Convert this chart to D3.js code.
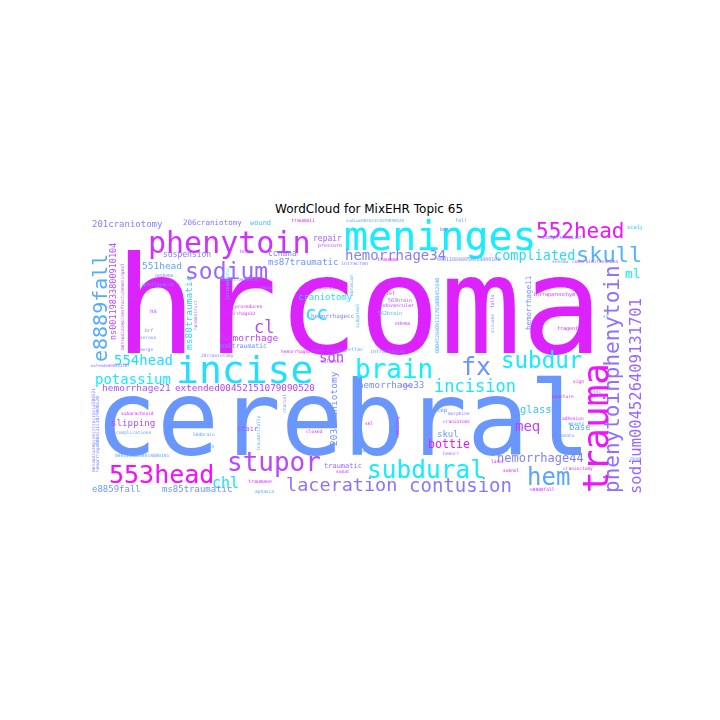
<!DOCTYPE html>
<html><head><meta charset="utf-8">
<script src="https://cdn.jsdelivr.net/npm/d3@7"></script>
<style>html,body{margin:0;padding:0;background:#fff;}</style>
</head><body>
<svg id="chart" width="720" height="720"></svg>
<script>
const title = "WordCloud for MixEHR Topic 65";

// words of the topic (largest first), their cloud size and colour tone (0 = cyan, 1 = magenta)
const words = [
 "hrcoma","cerebral","meninges","phenytoin","sodium","552head","skull","compliated","hemorrhage34","201craniotomy",
 "206craniotomy","wound","suspension","ccnana","ms87traumatic","repair","pressure","551head","craniotomy","cc",
 "cl","hemorrhagecc","hemorrhage","ms0traumatic","ml","554head","incise","potassium","hemorrhage21","extended00452151079090520",
 "sdh","brain","fx","subdur","incision","hemorrhage33","slipping","stair","glass","base",
 "meq","skul","bottie","hemorrhage44","hem","553head","stupor","chl","laceration","subdural",
 "contusion","e8859fall","ms85traumatic","traumatic",
 "e8889fall","ns00119833800910104","ms80traumatic","phenytoinphenytoin","sodium004526409131701","hemorrhage11","203craniotomy","trauma",
 "traumaii","sodium00452151079090520","fall","bns","scalp","compression","000118848054014800101","traumaa","seesaw","comorbiditiesnana",
 "intraparenchym","sn","fragent","brief","563brain","endovascular","562brain","edema","intracranial","effac",
 "hemorrhage12","hosp","intracran","oedema","ciprofloxacin","ms86traumatic","musu","acetaminophen","procedures","hemorrhage32",
 "ns","serous","brf","emerge","hemorrhage23","20craniotomy","dilantin","extended00452107","subarachnoid","complications",
 "564brain","sah","00011488054014800101","closed","skl","ms80basal","traumaoe","aphasia","somat","step",
 "morphine","craniotomi","hemorr","laser","somnol","puncture","sign","ssi","sinus","adhesion",
 "squeez","somato","deep","craniectomy","e8880fall","lower",
 "benzodiazepinesfracturemeningeal","nonobstruct","intraventric","abrasion","subgaleal","0004526409131701000452640","falls","sinuses","vomiting","traumatically",
 "cranial","benzodiazepineintracranial04521","hemorrhage000452151079090520"
];
const weights = [
 135,103,40,30,23,21,22,13.5,14,9,
 7.5,7,8,8,9,8,5,9.5,9,19,
 17,6,9.5,6.5,13,14,38,14,9.5,9.3,
 14,26,25,22.5,17,9.2,9.2,7,10.5,9,
 14,9,11.6,12,24,25,26,15,18.5,24.5,
 19,9,9,7,
 20,8.5,9.5,21,15.5,7.5,9.5,36,
 5,4.2,5,5,5.5,6,5,5,4.5,4.5,
 5,4.5,5,5,5,5,5,5,5,5,
 5,5,5,5,4.5,5,4.5,4.5,4.5,4.5,
 6,4.5,4.5,4.5,4.5,4.5,4.5,4,4.5,4.5,
 4.5,4.5,4.5,4.5,4.5,4.5,5,4.5,4.5,6,
 4.5,4.5,4.5,4.5,4.5,4.5,4.5,4.5,4.5,4.5,
 4.5,4.5,4.5,4.5,4.5,4.5,
 4.5,4.5,4.5,4.5,4.5,5,4.5,4.5,4.5,4.5,
 4.5,4.5,4.5
];
const tones = [
 0.86,0.41,0.07,0.8,0.6,0.93,0.3,0.15,0.5,0.5,
 0.55,0.25,0.55,0.5,0.42,0.62,0.7,0.35,0.15,0.12,
 0.7,0.5,0.75,0.45,0.06,0.12,0.13,0.08,0.66,0.75,
 0.68,0.06,0.42,0.08,0.1,0.45,0.7,0.65,0.22,0.35,
 0.75,0.4,0.9,0.5,0.35,0.97,0.72,0.12,0.55,0.08,
 0.52,0.4,0.42,0.6,
 0.33,0.7,0.18,0.56,0.6,0.45,0.45,0.93,
 0.9,0.3,0.4,0.65,0.2,0.45,0.45,0.9,0.4,0.7,
 0.85,0.3,0.85,0.85,0.6,0.7,0.3,0.7,0.45,0.3,
 0.65,0.65,0.5,0.45,0.3,0.45,0.4,0.85,0.9,0.8,
 0.75,0.4,0.6,0.55,0.85,0.5,0.85,0.55,0.85,0.4,
 0.35,0.3,0.35,0.9,0.85,0.35,0.85,0.35,0.8,0.4,
 0.55,0.85,0.55,0.85,0.9,0.85,0.9,0.35,0.4,0.85,
 0.3,0.4,0.35,0.85,0.85,0.55,
 0.7,0.6,0.15,0.4,0.3,0.3,0.7,0.4,0.9,0.35,
 0.45,0.55,0.45
];

// layout of the cloud image (image pixel units, 552 x 277): [x, y, vertical]
const placement = [
 [25,136,0],[5,238,0],[254,33,0],[58,36,0],[95,62,0],[446,21,0],[486,45,0],[404,43,0],[255,43,0],[2,10,0],
 [93,8,0],[160,8,0],[73,40,0],[178,39,0],[178,48,0],[223,24,0],[228,30,0],[52,52,0],[208,83,0],[215,103,0],
 [164,116,0],[221,101,0],[131,124,0],[130,131,0],[535,61,0],[24,148,0],[86,166,0],[5,167,0],[12,174,0],[85,174,0],
 [229,145,0],[265,161,0],[371,158,0],[411,151,0],[344,175,0],[268,171,0],[21,209,0],[147,214,0],[430,196,0],[479,213,0],
 [425,214,0],[347,220,0],[338,231,0],[407,245,0],[437,268,0],[19,266,0],[137,254,0],[122,271,0],[196,274,0],[277,261,0],
 [319,275,0],[2,275,0],[72,275,0],[234,251,0],
 [17,145,1],[26,123,1],[102,133,1],[529,276,1],[551,277,1],[441,113,1],[247,229,1],[518,276,1],
 [201,5,0],[256,5,0],[365,5,0],[350,14,0],[537,12,0],[452,22,0],[347,44,0],[287,44,0],[462,46,0],[482,46,0],
 [443,79,0],[513,101,0],[467,113,0],[290,78,0],[298,85,0],[288,90,0],[288,98,0],[305,108,0],[280,136,0],[258,134,0],
 [221,135,0],[150,36,0],[251,48,0],[65,60,0],[48,69,0],[131,64,0],[171,72,0],[218,72,0],[145,91,0],[133,98,0],
 [60,96,0],[50,122,0],[55,115,0],[47,134,0],[191,136,0],[111,140,0],[231,146,0],[1,150,0],[31,198,0],[26,217,0],
 [103,219,0],[116,231,0],[25,240,0],[216,216,0],[275,208,0],[263,235,0],[158,266,0],[165,276,0],[246,256,0],[343,195,0],
 [358,198,0],[353,206,0],[353,238,0],[401,246,0],[413,255,0],[462,181,0],[483,166,0],[503,176,0],[458,193,0],[472,203,0],
 [478,208,0],[468,220,0],[540,243,0],[473,253,0],[440,274,0],[310,170,0],
 [34,133,1],[107,113,1],[139,83,1],[263,79,1],[269,111,1],[349,136,1],[404,91,1],[404,116,1],[309,221,1],[170,234,1],
 [196,196,1],[5,255,1],[9,255,1]
];

const svg = d3.select("#chart");
const x = d3.scaleLinear().domain([0, 552]).range([90, 642]);
const y = d3.scaleLinear().domain([0, 277]).range([217, 494]);
const fontScale = (x(552) - x(0)) / 552;
const cool = t => d3.rgb(Math.round(255 * t), Math.round(255 * (1 - t)), 255).formatHex();

const defs = svg.append("defs");
defs.append("clipPath").attr("id", "imgclip").append("rect")
  .attr("x", x(0)).attr("y", y(0)).attr("width", x(552) - x(0)).attr("height", y(277) - y(0));
defs.append("filter").attr("id", "soft").attr("x", "-5%").attr("y", "-5%").attr("width", "110%").attr("height", "110%")
  .append("feGaussianBlur").attr("stdDeviation", 0.6);

svg.append("rect").attr("width", 720).attr("height", 720).attr("fill", "#fff");

const data = words.map((w, i) => ({ word: w, size: weights[i], tone: tones[i], pos: placement[i] }));

const g = svg.append("g").attr("clip-path", "url(#imgclip)").append("g").attr("filter", "url(#soft)");
g.selectAll("text").data(data).join("text")
  .attr("transform", d => `translate(${x(d.pos[0])},${y(d.pos[1])})` + (d.pos[2] ? " rotate(-90)" : ""))
  .attr("font-family", "'DejaVu Sans Mono', monospace")
  .attr("font-size", d => d.size * fontScale)
  .attr("fill", d => cool(d.tone))
  .text(d => d.word);

svg.append("text")
  .attr("x", x(279)).attr("y", 213)
  .attr("text-anchor", "middle")
  .attr("font-family", "'DejaVu Sans', sans-serif")
  .attr("font-size", 12)
  .attr("fill", "#000")
  .text(title);
</script>
</body></html>
